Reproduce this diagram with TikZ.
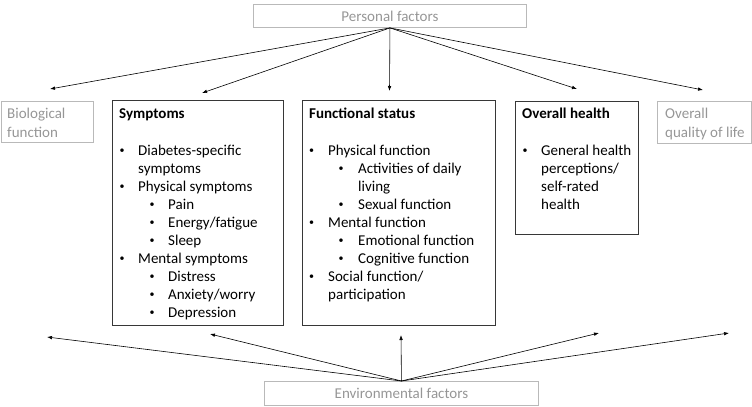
\documentclass[tikz,border=0pt]{standalone}
\usepackage{fontspec}
\setmainfont{Carlito}
\usetikzlibrary{arrows.meta}
\definecolor{softgray}{RGB}{150,150,150}
\definecolor{bordergray}{RGB}{185,185,185}
\definecolor{darkline}{RGB}{55,55,55}
\newcommand{\smallbul}{\raisebox{1.2bp}{\fontsize{10bp}{12bp}\selectfont •}}
\begin{document}
\begin{tikzpicture}[x=1bp,y={(0bp,-1bp)},
  font=\fontsize{15bp}{18bp}\selectfont,
  gbox/.style={draw=bordergray, line width=0.9bp, inner sep=0pt, anchor=north west},
  bbox/.style={draw=darkline, line width=1.1bp, inner sep=0pt, anchor=north west},
  txt/.style={anchor=base west, inner sep=0pt, text=black},
  gtxt/.style={anchor=base west, inner sep=0pt, text=softgray},
  bul/.style={anchor=base, inner sep=0pt, text=black},
  arr/.style={-{Latex[length=5bp,width=3.6bp]}, line width=0.6bp, black}]
\useasboundingbox (0,0) rectangle (752,406);

% boxes
\node[gbox, minimum width=273bp, minimum height=23bp, text=softgray] (pers) at (253,4) {Personal factors};
\node[gbox, minimum width=274bp, minimum height=24bp, text=softgray] (env) at (264,381) {Environmental factors};
\node[gbox, minimum width=92bp, minimum height=41bp] (bio) at (1,101) {};
\node[gbox, minimum width=94bp, minimum height=42bp] (qol) at (657,101) {};
\node[bbox, minimum width=171bp, minimum height=225bp] (symp) at (112,100) {};
\node[bbox, minimum width=193bp, minimum height=225bp] (func) at (302,100) {};
\node[bbox, minimum width=123bp, minimum height=133bp] (oh) at (515,101) {};

% grey boxes text
\node[gtxt] (bio1) at (7,118) {Biological};
\node[gtxt] (bio2) at (7,137) {function};
\node[gtxt] (qol1) at (665,118) {Overall};
\node[gtxt] (qol2) at (665,137) {quality of life};

% Symptoms
\node[txt] (sh) at (119,118) {\bfseries Symptoms};
\node[bul] (sb1) at (122,155) {\smallbul};
\node[txt] (s1) at (138,155) {Diabetes-specific};
\node[txt] (s1b) at (138,173) {symptoms};
\node[bul] (sb2) at (122,191) {\smallbul};
\node[txt] (s2) at (138,191) {Physical symptoms};
\node[bul] (sb3) at (152,209) {\smallbul};
\node[txt] (s3) at (168,209) {Pain};
\node[bul] (sb4) at (152,227) {\smallbul};
\node[txt] (s4) at (168,227) {Energy/fatigue};
\node[bul] (sb5) at (152,245) {\smallbul};
\node[txt] (s5) at (168,245) {Sleep};
\node[bul] (sb6) at (122,263) {\smallbul};
\node[txt] (s6) at (138,263) {Mental symptoms};
\node[bul] (sb7) at (152,281) {\smallbul};
\node[txt] (s7) at (168,281) {Distress};
\node[bul] (sb8) at (152,299) {\smallbul};
\node[txt] (s8) at (168,299) {Anxiety/worry};
\node[bul] (sb9) at (152,317) {\smallbul};
\node[txt] (s9) at (168,317) {Depression};

% Functional status
\node[txt] (fh) at (309,118) {\bfseries Functional status};
\node[bul] (fb1) at (311.5,155) {\smallbul};
\node[txt] (f1) at (328,155) {Physical function};
\node[bul] (fb2) at (341,173) {\smallbul};
\node[txt] (f2) at (358,173) {Activities of daily};
\node[txt] (f2b) at (358,191) {living};
\node[bul] (fb3) at (341,209) {\smallbul};
\node[txt] (f3) at (358,209) {Sexual function};
\node[bul] (fb4) at (311.5,227) {\smallbul};
\node[txt] (f4) at (328,227) {Mental function};
\node[bul] (fb5) at (341,245) {\smallbul};
\node[txt] (f5) at (358,245) {Emotional function};
\node[bul] (fb6) at (341,263) {\smallbul};
\node[txt] (f6) at (358,263) {Cognitive function};
\node[bul] (fb7) at (311.5,281) {\smallbul};
\node[txt] (f7) at (328,281) {Social function/};
\node[txt] (f7b) at (328,299) {participation};

% Overall health
\node[txt] (ohh) at (522,118) {\bfseries Overall health};
\node[bul] (ob1) at (525,155) {\smallbul};
\node[txt] (o1) at (541,155) {General health};
\node[txt] (o2) at (541,173) {perceptions/};
\node[txt] (o3) at (541,191) {self-rated};
\node[txt] (o4) at (541,209) {health};

% arrow end points
\coordinate (pt1) at (50,89);
\coordinate (pt2) at (202,93);
\coordinate (pt3) at (389.5,91);
\coordinate (pt4) at (577,89);
\coordinate (pt5) at (703,90);
\coordinate (et1) at (47,337);
\coordinate (et2) at (210,334);
\coordinate (et3) at (401,335);
\coordinate (et4) at (599,333);
\coordinate (et5) at (729,333);

\foreach \t in {pt1,pt2,pt3,pt4,pt5} \draw[arr] (pers.south) -- (\t);
\foreach \t in {et1,et2,et3,et4,et5} \draw[arr] (env.north) -- (\t);
\end{tikzpicture}
\end{document}
